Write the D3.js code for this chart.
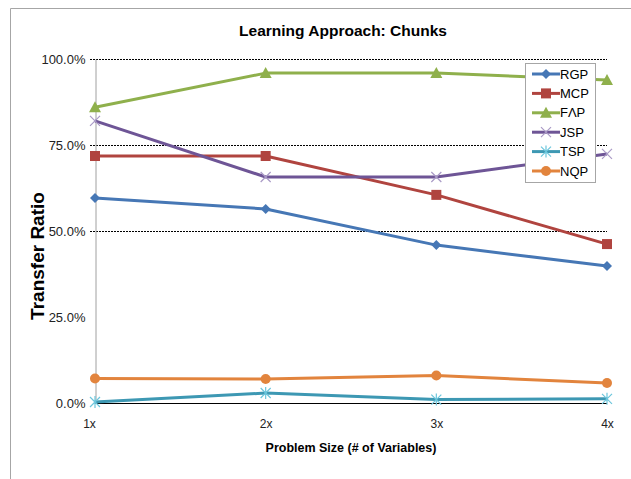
<!DOCTYPE html>
<html>
<head>
<meta charset="utf-8">
<script src="https://cdn.jsdelivr.net/npm/d3@7"></script>
<style>
  html, body { margin: 0; padding: 0; background: #fff; }
  svg { display: block; font-family: "Liberation Sans", Arial, sans-serif; }
</style>
</head>
<body>
<svg id="chart" width="631" height="479"></svg>
<script>
// Problem sizes along the x axis
const categories = ["1x", "2x", "3x", "4x"];
// Transfer ratio per learning target
const rgp = [0.596, 0.564, 0.459, 0.398];
const mcp = [0.718, 0.718, 0.605, 0.462];
const fap = [0.860, 0.959, 0.959, 0.939];
const jsp = [0.820, 0.657, 0.657, 0.724];
const tsp = [0.003, 0.029, 0.010, 0.012];
const nqp = [0.071, 0.070, 0.080, 0.058];
const seriesNames = ["RGP", "MCP", "FΛP", "JSP", "TSP", "NQP"];
const yTicks = [0, 0.25, 0.5, 0.75, 1.0];
const gridTicks = [0.5, 0.75, 1.0];

const series = [
  { name: seriesNames[0], values: rgp, color: "#4677b5", marker: "diamond" },
  { name: seriesNames[1], values: mcp, color: "#b0443f", marker: "square" },
  { name: seriesNames[2], values: fap, color: "#8fb04c", marker: "triangle" },
  { name: seriesNames[3], values: jsp, color: "#6e5596", marker: "x", markerColor: "#a99ac6" },
  { name: seriesNames[4], values: tsp, color: "#3d98b3", marker: "star", markerColor: "#6cc6dc" },
  { name: seriesNames[5], values: nqp, color: "#e2843d", marker: "circle" }
];

const svg = d3.select("#chart");

// outer chart frame (left and top edges show)
svg.append("path").attr("d", "M10.5,479 L10.5,8.5 L631,8.5")
  .attr("fill", "none").attr("stroke", "#a6a6a6").attr("stroke-width", 1);

const plotLeft = 95, plotRight = 607, plotTop = 59, plotBottom = 403;
const x = d3.scalePoint().domain(categories).range([plotLeft, plotRight]);
const y = d3.scaleLinear().domain([0, 1]).range([plotBottom, plotTop]);

// horizontal gridlines
svg.append("g").selectAll("line").data(gridTicks).join("line")
  .attr("x1", plotLeft - 5).attr("x2", plotRight)
  .attr("y1", d => Math.round(y(d)) + 0.5).attr("y2", d => Math.round(y(d)) + 0.5)
  .attr("stroke", "#000").attr("stroke-width", 1).attr("stroke-dasharray", "2,1");

// y axis
const yAxis = svg.append("g").attr("transform", `translate(${plotLeft + 0.5},0)`)
  .call(d3.axisLeft(y).tickValues(yTicks).tickFormat(d3.format(".1%")).tickSize(0).tickPadding(10));
yAxis.select(".domain").attr("stroke", "#a0a0a0");
yAxis.selectAll("text").attr("font-size", 13).attr("fill", "#222")
  .attr("font-family", "Liberation Sans, Arial, sans-serif");

// x axis
const xAxis = svg.append("g").attr("transform", `translate(0,${plotBottom + 0.5})`)
  .call(d3.axisBottom(x).tickSize(0).tickPadding(16));
xAxis.select(".domain").attr("stroke", "#000").attr("d", `M${plotLeft},0H${plotRight}`);
xAxis.selectAll("text").attr("font-size", 12).attr("fill", "#222")
  .attr("font-family", "Liberation Sans, Arial, sans-serif");
xAxis.selectAll(".tick").filter(d => d === "1x").select("text").attr("dx", -6);

// titles
svg.append("text").attr("x", 343).attr("y", 36).attr("text-anchor", "middle")
  .attr("font-size", 15.5).attr("font-weight", "bold").attr("fill", "#000")
  .text("Learning Approach: Chunks");
svg.append("text").attr("x", 351).attr("y", 452).attr("text-anchor", "middle")
  .attr("font-size", 12.5).attr("font-weight", "bold").attr("fill", "#000")
  .text("Problem Size (# of Variables)");
svg.append("text").attr("transform", "translate(44,256) rotate(-90)").attr("text-anchor", "middle")
  .attr("font-size", 19).attr("font-weight", "bold").attr("fill", "#000")
  .text("Transfer Ratio");

function drawMarker(g, type, color) {
  switch (type) {
    case "diamond":
      g.append("path").attr("d", "M0,-5L5,0L0,5L-5,0Z").attr("fill", color); break;
    case "square":
      g.append("rect").attr("x", -5).attr("y", -5).attr("width", 10).attr("height", 10).attr("fill", color); break;
    case "triangle":
      g.append("path").attr("d", "M0,-6L6,5L-6,5Z").attr("fill", color); break;
    case "circle":
      g.append("circle").attr("r", 5).attr("fill", color); break;
    case "x":
      g.append("path").attr("d", "M-5,-5L5,5M-5,5L5,-5").attr("stroke", color).attr("stroke-width", 1.2); break;
    case "star":
      g.append("path").attr("d", "M-5,-5L5,5M-5,5L5,-5M0,-6V6").attr("stroke", color).attr("stroke-width", 1.2); break;
  }
}

const line = d3.line().x((d, i) => x(categories[i])).y(d => y(d));

const plot = svg.append("g");
series.forEach(s => {
  plot.append("path").datum(s.values).attr("d", line)
    .attr("fill", "none").attr("stroke", s.color).attr("stroke-width", 3)
    .attr("stroke-linejoin", "round");
});
series.forEach(s => {
  s.values.forEach((v, i) => {
    const g = plot.append("g").attr("transform", `translate(${x(categories[i])},${y(v)})`);
    drawMarker(g, s.marker, s.markerColor || s.color);
  });
});

// legend
const lg = svg.append("g").attr("transform", "translate(525,63)");
lg.append("rect").attr("x", 0.5).attr("y", 0.5).attr("width", 70).attr("height", 119)
  .attr("fill", "#fff").attr("stroke", "#a6a6a6");
series.forEach((s, i) => {
  const yy = 11 + i * 19.4;
  const g = lg.append("g").attr("transform", `translate(0,${yy})`);
  g.append("line").attr("x1", 7).attr("x2", 35).attr("y1", 0).attr("y2", 0)
    .attr("stroke", s.color).attr("stroke-width", 3);
  const m = g.append("g").attr("transform", "translate(21,0)");
  drawMarker(m, s.marker, s.markerColor || s.color);
  g.append("text").attr("x", 35).attr("y", 4.5).attr("font-size", 13).attr("fill", "#000")
    .text(s.name);
});
</script>
</body>
</html>
